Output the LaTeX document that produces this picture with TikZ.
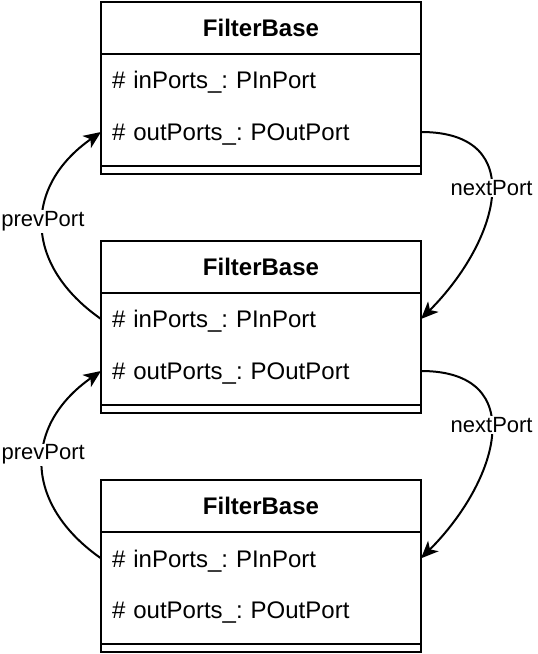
\documentclass[tikz,border=0pt]{standalone}
\usepackage{fontspec}
\setmainfont{Liberation Sans}
\usetikzlibrary{arrows.meta,positioning}
\frenchspacing

\begin{document}
\begin{tikzpicture}[
    x=0.75pt, y=0.75pt,
    node distance=0pt,
    classhead/.style={rectangle, draw, line width=1.5pt, outer sep=0pt,
                minimum width=240pt, minimum height=39pt, inner sep=0pt,
                font=\fontsize{18}{21.6}\selectfont\bfseries},
    attr/.style={rectangle, outer sep=0pt, inner xsep=8.25pt, inner ysep=0pt,
                text width=223.5pt, minimum height=39pt, text depth=0pt,
                align=left, font=\fontsize{18}{21.6}\selectfont},
    classfoot/.style={rectangle, draw, line width=1.5pt, outer sep=0pt,
                minimum width=240pt, minimum height=6pt, inner sep=0pt},
    body/.style={line width=1.5pt},
    link/.style={-{Stealth[length=13pt,width=11pt,inset=3.5pt]}, line width=1.5pt},
    lbl/.style={fill=white, inner sep=1pt, font=\fontsize{16.5}{19.8}\selectfont},
]
\useasboundingbox (0,0) rectangle (538,654);

% First filter
\node[classhead] (hdr1) at (261,626) {FilterBase};
\node[attr, below=of hdr1] (in1) {\# inPorts\_: PInPort};
\node[attr, below=of in1] (out1) {\# outPorts\_: POutPort};
\node[classfoot, below=6pt of out1] (foot1) {};
\draw[body] (hdr1.south west) rectangle (foot1.north east);

% Second filter
\node[classhead, below=50.25pt of foot1] (hdr2) {FilterBase};
\node[attr, below=of hdr2] (in2) {\# inPorts\_: PInPort};
\node[attr, below=of in2] (out2) {\# outPorts\_: POutPort};
\node[classfoot, below=6pt of out2] (foot2) {};
\draw[body] (hdr2.south west) rectangle (foot2.north east);

% Third filter
\node[classhead, below=50.5pt of foot2] (hdr3) {FilterBase};
\node[attr, below=of hdr3] (in3) {\# inPorts\_: PInPort};
\node[attr, below=of in3] (out3) {\# outPorts\_: POutPort};
\node[classfoot, below=6pt of out3] (foot3) {};
\draw[body] (hdr3.south west) rectangle (foot3.north east);

% Links
\draw[link] (out1.east) to[out=0, in=45, looseness=1.5]
    node[lbl, pos=.46] {nextPort} (in2.east);
\draw[link] (in2.west) to[out=145, in=215, looseness=1.3]
    node[lbl, pos=.52] {prevPort} (out1.west);
\draw[link] (out2.east) to[out=0, in=45, looseness=1.5]
    node[lbl, pos=.45] {nextPort} (in3.east);
\draw[link] (in3.west) to[out=145, in=215, looseness=1.3]
    node[lbl, pos=.55] {prevPort} (out2.west);

\end{tikzpicture}
\end{document}
